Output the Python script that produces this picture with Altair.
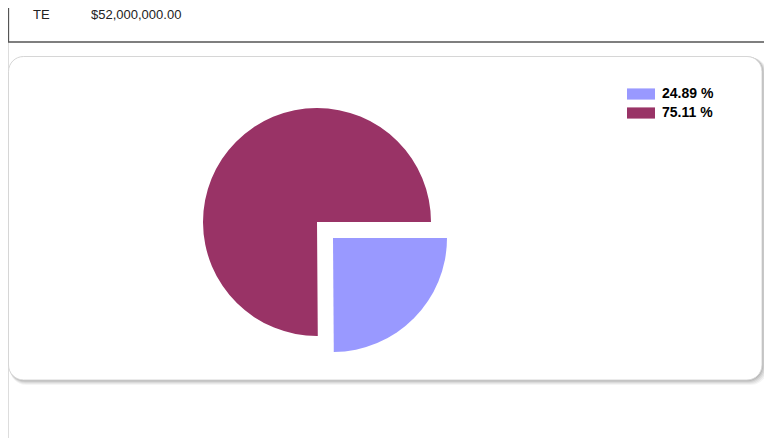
import math
import altair as alt
import pandas as pd

# ---- data ----
slice_labels = ["24.89 %", "75.11 %"]
slice_values = [24.89, 75.11]
slice_colors = ["#9999FF", "#993366"]
slice_order = [0, 1]
exploded = ["24.89 %"]

table_codes = ["TE"]
table_amounts = ["$52,000,000.00"]

pie_df = pd.DataFrame({"label": slice_labels, "value": slice_values, "order": slice_order})
table_df = pd.DataFrame({"code": table_codes, "amount": table_amounts})

W, H = 756, 430
FONT = "Liberation Sans"
PX = 0.5  # left edge of decorations
PR = 754  # right edge of rounded panel

# ---- decorations: top table box and rounded panel with shadow ----
one = pd.DataFrame({"k": [0]})

table_box = alt.Chart(one).mark_rect(fill="white", stroke="#555555", strokeWidth=1.3).encode(
    x=alt.value(PX), x2=alt.value(W + 5), y=alt.value(-10), y2=alt.value(34)
)

shadows = []
for i, op in enumerate([0.04, 0.05, 0.06, 0.08, 0.10]):
    d = 5 - i
    shadows.append(
        alt.Chart(one).mark_rect(fill="#000000", opacity=op, cornerRadius=16).encode(
            x=alt.value(PX + d * 0.3), x2=alt.value(PR + d),
            y=alt.value(48 + d * 0.3), y2=alt.value(372 + d),
        )
    )

panel = alt.Chart(one).mark_rect(fill="white", stroke="#d6d6d6", strokeWidth=1, cornerRadius=15).encode(
    x=alt.value(PX), x2=alt.value(PR), y=alt.value(48.5), y2=alt.value(372)
)

code_text = alt.Chart(table_df).mark_text(
    align="left", baseline="middle", font=FONT, fontSize=13, color="#222222"
).encode(x=alt.value(25), y=alt.value(6.5), text="code:N")

amount_text = alt.Chart(table_df).mark_text(
    align="left", baseline="middle", font=FONT, fontSize=13, color="#222222"
).encode(x=alt.value(83), y=alt.value(6.5), text="amount:N")

# ---- pie ----
base = alt.Chart(pie_df).transform_stack(
    stack="value", groupby=[], as_=["v0", "v1"], sort=[alt.SortField("order")]
)

theta_scale = alt.Scale(domain=[0, 100], range=[math.pi / 2, math.pi / 2 + 2 * math.pi])
color_enc = alt.Color(
    "label:N",
    scale=alt.Scale(domain=slice_labels, range=slice_colors),
    legend=alt.Legend(
        title=None,
        orient="none",
        legendX=626,
        legendY=79,
        padding=0,
        symbolType="M-2.5,-1L2.5,-1L2.5,1L-2.5,1Z",
        symbolSize=125,
        symbolStrokeWidth=0,
        labelFont=FONT,
        labelFontSize=14,
        labelFontWeight="bold",
        labelColor="#000000",
        labelOffset=14,
        rowPadding=5,
    ),
)

cond = "indexof(" + str(exploded) + ", datum.label) >= 0"

main_pie = base.transform_filter("!(" + cond + ")").mark_arc(radius=114).encode(
    theta=alt.Theta("v0:Q", scale=theta_scale),
    theta2="v1:Q",
    color=color_enc,
    x=alt.value(309),
    y=alt.value(214),
)

explode_pie = base.transform_filter(cond).mark_arc(radius=114).encode(
    theta=alt.Theta("v0:Q", scale=theta_scale),
    theta2="v1:Q",
    color=color_enc,
    x=alt.value(325),
    y=alt.value(230),
)

chart = alt.layer(
    table_box, *shadows, panel, code_text, amount_text, main_pie, explode_pie
).properties(
    width=W, height=H, padding=0, autosize=alt.AutoSizeParams(type="none")
).configure_view(strokeWidth=0, strokeOpacity=0, stroke="transparent").configure(background="white")

chart.save("out.html", embed_options={"renderer": "svg", "actions": False})
